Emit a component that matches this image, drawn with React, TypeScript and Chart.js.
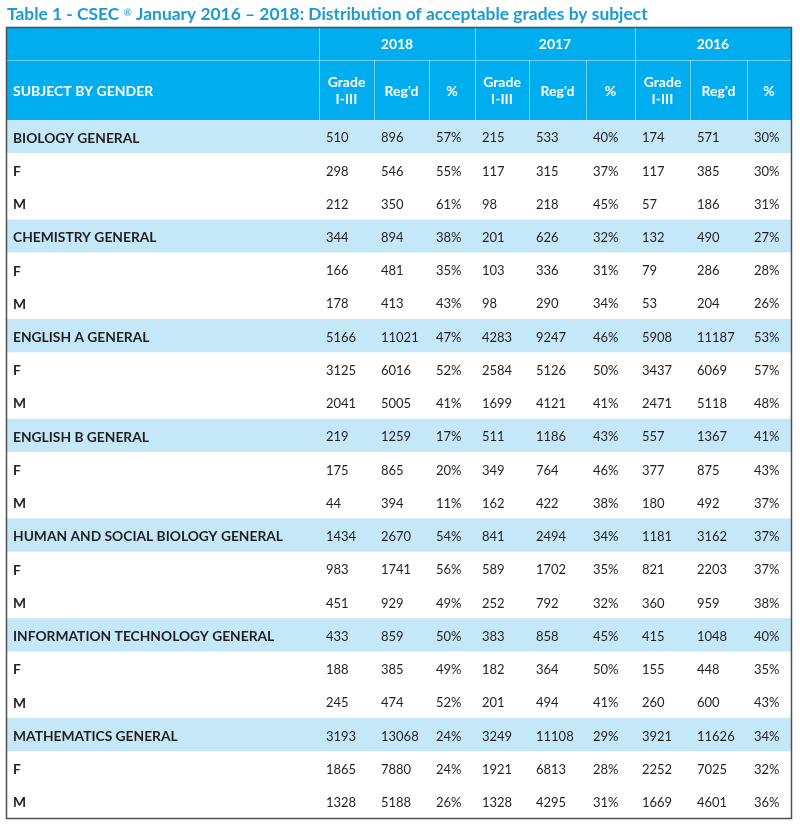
import React, { useEffect, useRef } from "react";
import { Chart, registerables } from "chart.js";

Chart.register(...registerables);

// ---------- text ----------
const titleMain = "Table 1 - CSEC";
const titleMark = "®";
const titleRest = "January 2016 – 2018: Distribution of acceptable grades by subject";
const years = ["2018", "2017", "2016"];
const subHeaders = ["Grade\nI-III", "Reg'd", "%"];
const firstHeader = "SUBJECT BY GENDER";

// ---------- data ----------
const rowLabels = [
  "BIOLOGY GENERAL", "F", "M",
  "CHEMISTRY GENERAL", "F", "M",
  "ENGLISH A GENERAL", "F", "M",
  "ENGLISH B GENERAL", "F", "M",
  "HUMAN AND SOCIAL BIOLOGY GENERAL", "F", "M",
  "INFORMATION TECHNOLOGY GENERAL", "F", "M",
  "MATHEMATICS GENERAL", "F", "M",
];
const grade2018 = [510, 298, 212, 344, 166, 178, 5166, 3125, 2041, 219, 175, 44, 1434, 983, 451, 433, 188, 245, 3193, 1865, 1328];
const reg2018 = [896, 546, 350, 894, 481, 413, 11021, 6016, 5005, 1259, 865, 394, 2670, 1741, 929, 859, 385, 474, 13068, 7880, 5188];
const pct2018 = [57, 55, 61, 38, 35, 43, 47, 52, 41, 17, 20, 11, 54, 56, 49, 50, 49, 52, 24, 24, 26];
const grade2017 = [215, 117, 98, 201, 103, 98, 4283, 2584, 1699, 511, 349, 162, 841, 589, 252, 383, 182, 201, 3249, 1921, 1328];
const reg2017 = [533, 315, 218, 626, 336, 290, 9247, 5126, 4121, 1186, 764, 422, 2494, 1702, 792, 858, 364, 494, 11108, 6813, 4295];
const pct2017 = [40, 37, 45, 32, 31, 34, 46, 50, 41, 43, 46, 38, 34, 35, 32, 45, 50, 41, 29, 28, 31];
const grade2016 = [174, 117, 57, 132, 79, 53, 5908, 3437, 2471, 557, 377, 180, 1181, 821, 360, 415, 155, 260, 3921, 2252, 1669];
const reg2016 = [571, 385, 186, 490, 286, 204, 11187, 6069, 5118, 1367, 875, 492, 3162, 2203, 959, 1048, 448, 600, 11626, 7025, 4601];
const pct2016 = [30, 30, 31, 27, 28, 26, 53, 57, 48, 41, 43, 37, 37, 37, 38, 40, 35, 43, 34, 32, 36];

// ---------- layout / style ----------
const colWidths = [313, 55, 55, 46, 54, 57, 49, 55, 57, 44];
const FONT = "Lato";
const HEADER_BG = "#00adee";
const BAND_BG = "#c5e8f9";
const TEXT = "#231f20";
const TITLE_COLOR = "#1b9ad6";
const BORDER = "#505050";
const HEADER_LINE = "rgba(255,255,255,0.45)";

const valueColumns = [grade2018, reg2018, pct2018, grade2017, reg2017, pct2017, grade2016, reg2016, pct2016];
const isPct = [false, false, true, false, false, true, false, false, true];
const isSubjectRow = rowLabels.map((l) => l !== "F" && l !== "M");

const edges: number[] = [0];
colWidths.forEach((w, i) => edges.push(edges[i] + w));
const tableWidth = edges[edges.length - 1];

const tablePlugin = {
  id: "tablePlugin",
  beforeDatasetsDraw(chart: any) {
    const ctx = chart.ctx;
    const xs = chart.scales.x;
    const ys = chart.scales.y;
    const area = chart.chartArea;
    const rowH = ys.getPixelForValue(1) - ys.getPixelForValue(0);
    const px = (v: number) => xs.getPixelForValue(v);
    const top = area.top - 2.8 * rowH;
    const mid = area.top - 1.8 * rowH;
    const bottom = area.top;
    ctx.save();
    // header background
    ctx.fillStyle = HEADER_BG;
    ctx.fillRect(px(0), top, px(tableWidth) - px(0), bottom - top);
    // header lines
    ctx.strokeStyle = HEADER_LINE;
    ctx.lineWidth = 1;
    ctx.beginPath();
    ctx.moveTo(px(0), Math.round(mid) + 0.5);
    ctx.lineTo(px(tableWidth), Math.round(mid) + 0.5);
    for (let i = 1; i < edges.length - 1; i++) {
      const x = Math.round(px(edges[i])) + 0.5;
      const fullHeight = (i - 1) % 3 === 0;
      ctx.moveTo(x, fullHeight ? top : mid);
      ctx.lineTo(x, bottom);
    }
    ctx.stroke();
    // header text
    ctx.fillStyle = "#ffffff";
    ctx.font = `bold 14px ${FONT}`;
    ctx.textBaseline = "middle";
    ctx.textAlign = "left";
    ctx.fillText(firstHeader, px(0) + 7, (mid + bottom) / 2 + 1);
    ctx.textAlign = "center";
    years.forEach((yr, g) => {
      const x0 = px(edges[1 + g * 3]);
      const x1 = px(edges[4 + g * 3]);
      ctx.fillText(yr, (x0 + x1) / 2, (top + mid) / 2 + 1);
      subHeaders.forEach((sh, k) => {
        const c = 1 + g * 3 + k;
        const cx = (px(edges[c]) + px(edges[c + 1])) / 2;
        const lines = sh.split("\n");
        const cy = (mid + bottom) / 2 + 1;
        const lh = 17.5;
        lines.forEach((ln, j) => {
          ctx.fillText(ln, cx, cy + (j - (lines.length - 1) / 2) * lh);
        });
      });
    });
    // title
    ctx.fillStyle = TITLE_COLOR;
    ctx.textAlign = "left";
    ctx.textBaseline = "alphabetic";
    const ty = 20;
    let tx = px(0) + 1;
    ctx.font = `bold 17.4px ${FONT}`;
    ctx.fillText(titleMain, tx, ty);
    tx += ctx.measureText(titleMain + " ").width;
    ctx.font = `10px ${FONT}`;
    ctx.fillText(titleMark, tx, ty - 4);
    tx += ctx.measureText(titleMark).width;
    ctx.font = `bold 17.4px ${FONT}`;
    tx += ctx.measureText(" ").width;
    ctx.fillText(titleRest, tx, ty);
    ctx.restore();
  },
  afterDatasetsDraw(chart: any) {
    const ctx = chart.ctx;
    const xs = chart.scales.x;
    const ys = chart.scales.y;
    const area = chart.chartArea;
    const px = (v: number) => xs.getPixelForValue(v);
    const rowH = ys.getPixelForValue(1) - ys.getPixelForValue(0);
    ctx.save();
    ctx.fillStyle = TEXT;
    ctx.textBaseline = "middle";
    ctx.textAlign = "left";
    rowLabels.forEach((label, r) => {
      const y = ys.getPixelForValue(r) + 1.5;
      ctx.font = `bold 13.8px ${FONT}`;
      ctx.fillText(label, px(edges[0]) + 7, y);
      ctx.font = `13px ${FONT}`;
      valueColumns.forEach((col, c) => {
        const txt = isPct[c] ? `${col[r]}%` : `${col[r]}`;
        ctx.fillText(txt, px(edges[c + 1]) + 7, y);
      });
    });
    // outer border
    const top = area.top - 2.8 * rowH;
    ctx.strokeStyle = BORDER;
    ctx.lineWidth = 1.5;
    ctx.strokeRect(Math.round(px(0)) + 0.5, Math.round(top) + 0.5, Math.round(px(tableWidth) - px(0)), Math.round(area.bottom - top));
    ctx.restore();
  },
};

export default function App() {
  const ref = useRef<HTMLCanvasElement | null>(null);
  useEffect(() => {
    document.body.style.margin = "0";
    if (!ref.current) return;
    const chart = new Chart(ref.current, {
      type: "bar",
      data: {
        labels: rowLabels,
        datasets: [
          {
            data: rowLabels.map(() => [0, tableWidth]) as any,
            backgroundColor: isSubjectRow.map((s) => (s ? BAND_BG : "#ffffff")),
            borderWidth: 0,
            barPercentage: 1,
            categoryPercentage: 1,
          },
        ],
      },
      options: {
        indexAxis: "y",
        responsive: false,
        animation: false,
        events: [],
        layout: { padding: { left: 6, right: 9, top: 120, bottom: 10 } },
        plugins: { legend: { display: false }, tooltip: { enabled: false }, title: { display: false } },
        scales: {
          x: { type: "linear", min: 0, max: tableWidth, display: false, grid: { display: false } },
          y: { type: "category", display: false, offset: true, grid: { display: false } },
        },
      },
      plugins: [tablePlugin],
    });
    return () => chart.destroy();
  }, []);
  return (
    <div style={{ width: 800, height: 828, background: "#ffffff" }}>
      <canvas ref={ref} width={800} height={828} style={{ display: "block" }} />
    </div>
  );
}
